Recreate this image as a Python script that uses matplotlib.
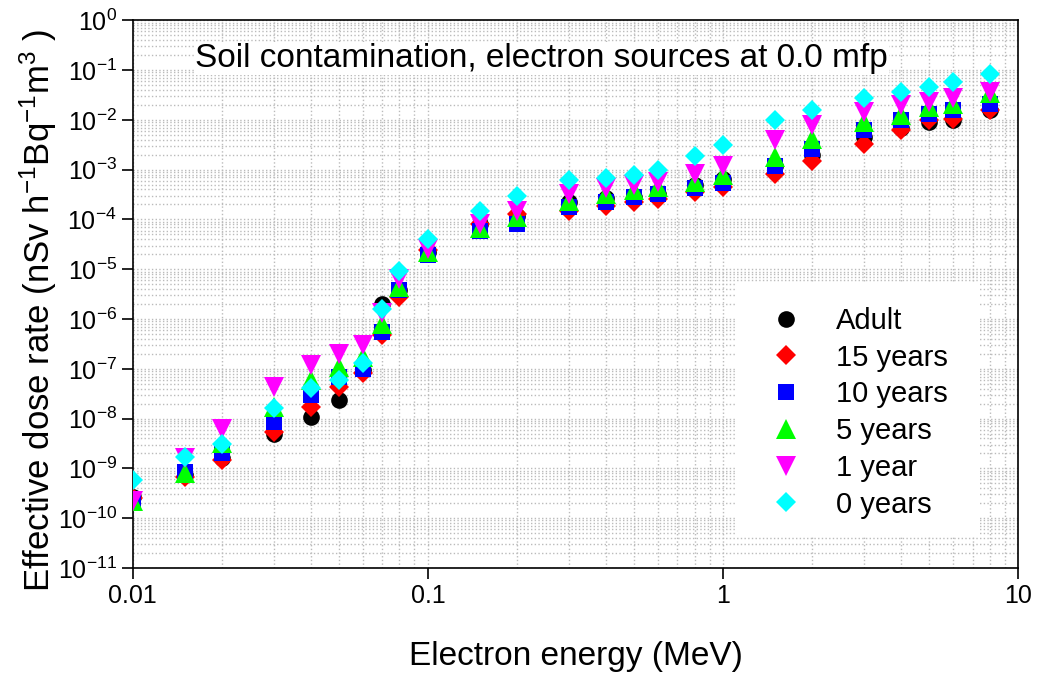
"""Effective dose rate vs electron energy, soil contamination at 0.0 mfp."""
import math

import matplotlib
matplotlib.use("Agg")
import matplotlib.pyplot as plt
from matplotlib.patches import Rectangle
from matplotlib.ticker import FixedLocator, FuncFormatter, LogLocator, NullFormatter

plt.rcParams["font.family"] = ["Liberation Sans", "DejaVu Sans"]
plt.rcParams["mathtext.default"] = "regular"
plt.rcParams["axes.unicode_minus"] = False

energy = [0.01, 0.015, 0.02, 0.03, 0.04, 0.05, 0.06, 0.07, 0.08, 0.1, 0.15, 0.2,
          0.3, 0.4, 0.5, 0.6, 0.8, 1.0, 1.5, 2.0, 3.0, 4.0, 5.0, 6.0, 8.0]

adult = [2.7e-10, 7.5e-10, 1.6e-9, 5.0e-9, 1.1e-8, 2.4e-8, 9.5e-8, 2.0e-6, 3.8e-6, 2.2e-5,
         8.3e-5, 1.2e-4, 2.2e-4, 2.7e-4, 2.8e-4, 3.3e-4, 5.0e-4, 6.5e-4, 1.2e-3, 1.95e-3,
         4.5e-3, 6.8e-3, 9.0e-3, 1.0e-2, 1.55e-2]
y15 = [2.5e-10, 6.8e-10, 1.45e-9, 5.4e-9, 1.7e-8, 4.4e-8, 8.1e-8, 4.7e-7, 2.8e-6, 2.4e-5,
       8.0e-5, 1.3e-4, 1.5e-4, 1.9e-4, 2.2e-4, 2.6e-4, 3.6e-4, 4.5e-4, 8.1e-4, 1.5e-3,
       3.3e-3, 6.2e-3, 1.0e-2, 1.06e-2, 1.6e-2]
y10 = [2.3e-10, 8.5e-10, 2.0e-9, 8.5e-9, 3.0e-8, 7.0e-8, 1.0e-7, 5.5e-7, 3.8e-6, 1.9e-5,
       6.0e-5, 8.3e-5, 1.8e-4, 2.2e-4, 2.8e-4, 3.3e-4, 4.2e-4, 5.4e-4, 1.2e-3, 2.6e-3,
       6.2e-3, 9.8e-3, 1.3e-2, 1.55e-2, 2.1e-2]
y5 = [2.2e-10, 8.0e-10, 3.3e-9, 1.7e-8, 5.9e-8, 1.1e-7, 1.7e-7, 8.1e-7, 4.4e-6, 2.2e-5,
      6.6e-5, 1.1e-4, 2.4e-4, 3.3e-4, 3.9e-4, 4.5e-4, 5.7e-4, 7.7e-4, 1.8e-3, 4.2e-3,
      9.1e-3, 1.24e-2, 1.8e-2, 2.1e-2, 3.4e-2]
y1 = [2.2e-10, 1.6e-9, 6.3e-9, 4.4e-8, 1.2e-7, 2.0e-7, 3.0e-7, 1.3e-6, 6.5e-6, 2.6e-5,
      8.3e-5, 1.5e-4, 3.3e-4, 4.2e-4, 4.9e-4, 5.7e-4, 8.3e-4, 1.2e-3, 4.0e-3, 7.8e-3,
      1.45e-2, 2.0e-2, 2.3e-2, 2.7e-2, 3.6e-2]
y0 = [5.8e-10, 1.7e-9, 3.1e-9, 1.6e-8, 4.2e-8, 5.9e-8, 1.3e-7, 1.6e-6, 9.3e-6, 4.0e-5,
      1.45e-4, 2.9e-4, 6.1e-4, 6.9e-4, 7.9e-4, 9.8e-4, 1.85e-3, 3.2e-3, 1.0e-2, 1.6e-2,
      2.7e-2, 3.6e-2, 4.6e-2, 5.8e-2, 8.2e-2]

series = [
    ("Adult", adult, "o", "black", 12),
    ("15 years", y15, "D", "red", 10.5),
    ("10 years", y10, "s", "blue", 11.5),
    ("5 years", y5, "^", "#00ff00", 14),
    ("1 year", y1, "v", "magenta", 14),
    ("0 years", y0, "D", "cyan", 10.5),
]

fig = plt.figure(figsize=(10.38, 6.77), dpi=100)
ax = fig.add_axes([0.128, 0.161, 0.853, 0.809])

for label, vals, marker, color, size in series:
    ax.plot(energy, vals, linestyle="none", marker=marker, color=color,
            markersize=size, markeredgewidth=0, label=label, zorder=3)

ax.set_xscale("log")
ax.set_yscale("log")
ax.set_xlim(0.01, 10)
ax.set_ylim(1e-11, 1)

ax.xaxis.set_major_locator(FixedLocator([0.01, 0.1, 1, 10]))
ax.xaxis.set_major_formatter(FuncFormatter(lambda v, _: f"{v:g}"))
ax.xaxis.set_minor_locator(LogLocator(base=10, subs=range(2, 10), numticks=20))
ax.xaxis.set_minor_formatter(NullFormatter())
ax.yaxis.set_major_locator(LogLocator(base=10, numticks=20))
ax.yaxis.set_major_formatter(FuncFormatter(lambda v, _: "10$^{%d}$" % round(math.log10(v))))
ax.yaxis.set_minor_locator(LogLocator(base=10, subs=range(2, 10), numticks=20))
ax.yaxis.set_minor_formatter(NullFormatter())

ax.grid(True, which="both", color="#bbbbbb", linestyle=":", linewidth=1.0)
ax.set_axisbelow(True)
ax.tick_params(which="major", direction="out", length=8, width=1.2, labelsize=18)
ax.tick_params(which="minor", length=0)
for sp in ax.spines.values():
    sp.set_linewidth(1.2)

ax.set_xlabel("Electron energy (MeV)", fontsize=24, labelpad=24)
ax.set_ylabel("Effective dose rate (nSv h$^{-1}$Bq$^{-1}$m$^{3}$ )", fontsize=25)
ax.yaxis.set_label_coords(-0.083, 0.47)

ax.text(0.07, 0.93, "Soil contamination, electron sources at 0.0 mfp", transform=ax.transAxes,
        fontsize=24, va="center", ha="left",
        bbox=dict(facecolor="white", edgecolor="none", pad=1))

# white block behind the legend, hides the grid there
ax.add_patch(Rectangle((0.680, 0.057), 0.274, 0.463, transform=ax.transAxes,
                       facecolor="white", edgecolor="none", zorder=1))
ax.legend(loc="upper left", bbox_to_anchor=(0.705, 0.477), fontsize=21, frameon=False,
          borderpad=0, borderaxespad=0, handlelength=2.0, handletextpad=0.7,
          labelspacing=0.3)

fig.savefig("out.png", dpi=100)
